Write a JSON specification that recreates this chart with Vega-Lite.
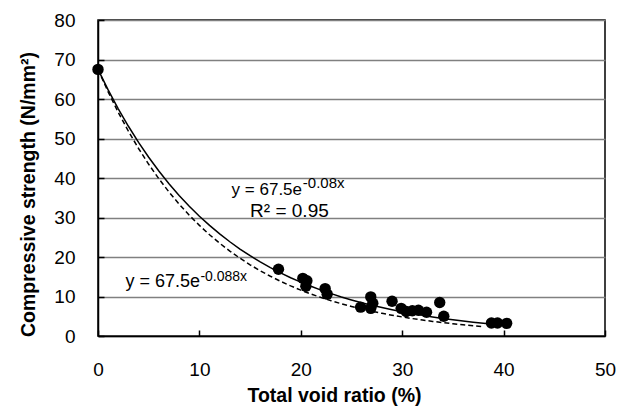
{
  "$schema": "https://vega.github.io/schema/vega-lite/v6.json",
  "width": 507,
  "height": 316,
  "autosize": "none",
  "padding": {"left": 98, "top": 20, "right": 13, "bottom": 73},
  "background": "white",
  "config": {
    "font": "Liberation Sans",
    "view": {"stroke": "black", "strokeWidth": 1.5},
    "axis": {
      "labelFont": "Liberation Sans",
      "titleFont": "Liberation Sans",
      "labelFontSize": 19,
      "titleFontSize": 19.5,
      "titleFontWeight": "bold",
      "labelColor": "black",
      "titleColor": "black",
      "domainColor": "black",
      "domainWidth": 1.5,
      "tickColor": "black",
      "tickWidth": 1.5,
      "tickSize": -6,
      "labelOverlap": false,
      "labelFlush": false
    }
  },
  "datasets": {
    "points": [
      {"ratio": 0, "strength": 67.5},
      {"ratio": 17.8, "strength": 16.9},
      {"ratio": 20.2, "strength": 14.6},
      {"ratio": 20.6, "strength": 14.0},
      {"ratio": 20.5, "strength": 12.6},
      {"ratio": 22.4, "strength": 12.0},
      {"ratio": 22.6, "strength": 10.6},
      {"ratio": 25.9, "strength": 7.3},
      {"ratio": 26.9, "strength": 9.9},
      {"ratio": 27.1, "strength": 8.3},
      {"ratio": 26.9, "strength": 7.0},
      {"ratio": 29.0, "strength": 8.8},
      {"ratio": 29.9, "strength": 7.0},
      {"ratio": 30.4, "strength": 6.2},
      {"ratio": 31.0, "strength": 6.4},
      {"ratio": 31.6, "strength": 6.5},
      {"ratio": 32.4, "strength": 6.0},
      {"ratio": 33.7, "strength": 8.5},
      {"ratio": 34.1, "strength": 5.0},
      {"ratio": 38.8, "strength": 3.3},
      {"ratio": 39.4, "strength": 3.3},
      {"ratio": 40.3, "strength": 3.2}
    ],
    "fitSolid": [
      {"ratio": 0, "strength": 67.5}, {"ratio": 1, "strength": 62.31}, {"ratio": 2, "strength": 57.52},
      {"ratio": 3, "strength": 53.10}, {"ratio": 4, "strength": 49.02}, {"ratio": 5, "strength": 45.25},
      {"ratio": 6, "strength": 41.77}, {"ratio": 7, "strength": 38.56}, {"ratio": 8, "strength": 35.59},
      {"ratio": 9, "strength": 32.86}, {"ratio": 10, "strength": 30.33}, {"ratio": 11, "strength": 28.00},
      {"ratio": 12, "strength": 25.84}, {"ratio": 13, "strength": 23.86}, {"ratio": 14, "strength": 22.02},
      {"ratio": 15, "strength": 20.33}, {"ratio": 16, "strength": 18.77}, {"ratio": 17, "strength": 17.32},
      {"ratio": 18, "strength": 15.99}, {"ratio": 19, "strength": 14.76}, {"ratio": 20, "strength": 13.63},
      {"ratio": 21, "strength": 12.58}, {"ratio": 22, "strength": 11.61}, {"ratio": 23, "strength": 10.72},
      {"ratio": 24, "strength": 9.89}, {"ratio": 25, "strength": 9.13}, {"ratio": 26, "strength": 8.43},
      {"ratio": 27, "strength": 7.78}, {"ratio": 28, "strength": 7.19}, {"ratio": 29, "strength": 6.63},
      {"ratio": 30, "strength": 6.12}, {"ratio": 31, "strength": 5.65}, {"ratio": 32, "strength": 5.22},
      {"ratio": 33, "strength": 4.82}, {"ratio": 34, "strength": 4.45}, {"ratio": 35, "strength": 4.11},
      {"ratio": 36, "strength": 3.79}, {"ratio": 37, "strength": 3.50}, {"ratio": 38, "strength": 3.23},
      {"ratio": 39, "strength": 2.98}, {"ratio": 40, "strength": 2.75}
    ],
    "fitDashed": [
      {"ratio": 0, "strength": 67.5}, {"ratio": 1, "strength": 61.81}, {"ratio": 2, "strength": 56.61},
      {"ratio": 3, "strength": 51.84}, {"ratio": 4, "strength": 47.47}, {"ratio": 5, "strength": 43.47},
      {"ratio": 6, "strength": 39.81}, {"ratio": 7, "strength": 36.46}, {"ratio": 8, "strength": 33.39},
      {"ratio": 9, "strength": 30.57}, {"ratio": 10, "strength": 28.00}, {"ratio": 11, "strength": 25.64},
      {"ratio": 12, "strength": 23.48}, {"ratio": 13, "strength": 21.50}, {"ratio": 14, "strength": 19.69},
      {"ratio": 15, "strength": 18.03}, {"ratio": 16, "strength": 16.51}, {"ratio": 17, "strength": 15.12},
      {"ratio": 18, "strength": 13.85}, {"ratio": 19, "strength": 12.68}, {"ratio": 20, "strength": 11.61},
      {"ratio": 21, "strength": 10.63}, {"ratio": 22, "strength": 9.74}, {"ratio": 23, "strength": 8.92},
      {"ratio": 24, "strength": 8.17}, {"ratio": 25, "strength": 7.48}, {"ratio": 26, "strength": 6.85},
      {"ratio": 27, "strength": 6.27}, {"ratio": 28, "strength": 5.74}, {"ratio": 29, "strength": 5.26},
      {"ratio": 30, "strength": 4.82}, {"ratio": 31, "strength": 4.41}, {"ratio": 32, "strength": 4.04},
      {"ratio": 33, "strength": 3.70}, {"ratio": 34, "strength": 3.39}, {"ratio": 35, "strength": 3.10},
      {"ratio": 36, "strength": 2.84}, {"ratio": 37, "strength": 2.60}, {"ratio": 38, "strength": 2.38}
    ],
    "labels": [
      {"label": "y = 67.5e", "part": "solidMain"},
      {"label": "-0.08x", "part": "solidSup"},
      {"label": "R² = 0.95", "part": "r2"},
      {"label": "y = 67.5e", "part": "dashedMain"},
      {"label": "-0.088x", "part": "dashedSup"}
    ]
  },
  "layer": [
    {
      "encoding": {
        "x": {
          "field": "ratio", "type": "quantitative",
          "scale": {"domain": [0, 50], "nice": false},
          "axis": {
            "values": [0, 10, 20, 30, 40, 50],
            "tickCount": 6,
            "grid": false,
            "labelOverlap": false,
            "labelFlush": false,
            "title": "Total void ratio (%)",
            "labelPadding": 30,
            "titleBaseline": "alphabetic",
            "titleX": 236,
            "titleY": 65
          }
        },
        "y": {
          "field": "strength", "type": "quantitative",
          "scale": {"domain": [0, 80], "nice": false},
          "axis": {
            "values": [0, 10, 20, 30, 40, 50, 60, 70, 80],
            "tickCount": 9,
            "grid": true,
            "labelOverlap": false,
            "labelFlush": false,
            "gridColor": "#808080",
            "gridWidth": 1.5,
            "title": "Compressive strength (N/mm²)",
            "labelPadding": 29,
            "titleBaseline": "alphabetic",
            "titleX": -64,
            "titleY": 174
          }
        }
      },
      "layer": [
        {
          "data": {"name": "fitSolid"},
          "mark": {"type": "line", "color": "black", "strokeWidth": 1.5}
        },
        {
          "data": {"name": "fitDashed"},
          "mark": {"type": "line", "color": "black", "strokeWidth": 1.5, "strokeDash": [5, 3]}
        },
        {
          "data": {"name": "points"},
          "mark": {"type": "point", "filled": true, "shape": "circle", "color": "black", "opacity": 1, "size": 130}
        }
      ]
    },
    {
      "data": {"name": "labels"},
      "transform": [{"filter": "datum.part === 'solidMain'"}],
      "mark": {"type": "text", "align": "right", "baseline": "alphabetic", "fontSize": 17, "color": "black"},
      "encoding": {
        "text": {"field": "label"},
        "x": {"datum": 20.12},
        "y": {"datum": 35.7}
      }
    },
    {
      "data": {"name": "labels"},
      "transform": [{"filter": "datum.part === 'solidSup'"}],
      "mark": {"type": "text", "align": "left", "baseline": "alphabetic", "fontSize": 15, "color": "black"},
      "encoding": {
        "text": {"field": "label"},
        "x": {"datum": 20.2},
        "y": {"datum": 37.5}
      }
    },
    {
      "data": {"name": "labels"},
      "transform": [{"filter": "datum.part === 'r2'"}],
      "mark": {"type": "text", "align": "left", "baseline": "alphabetic", "fontSize": 19, "color": "black"},
      "encoding": {
        "text": {"field": "label"},
        "x": {"datum": 15.0},
        "y": {"datum": 30.2}
      }
    },
    {
      "data": {"name": "labels"},
      "transform": [{"filter": "datum.part === 'dashedMain'"}],
      "mark": {"type": "text", "align": "right", "baseline": "alphabetic", "fontSize": 18, "color": "black"},
      "encoding": {
        "text": {"field": "label"},
        "x": {"datum": 10.06},
        "y": {"datum": 12.48}
      }
    },
    {
      "data": {"name": "labels"},
      "transform": [{"filter": "datum.part === 'dashedSup'"}],
      "mark": {"type": "text", "align": "left", "baseline": "alphabetic", "fontSize": 14, "color": "black"},
      "encoding": {
        "text": {"field": "label"},
        "x": {"datum": 10.1},
        "y": {"datum": 14.0}
      }
    }
  ]
}
